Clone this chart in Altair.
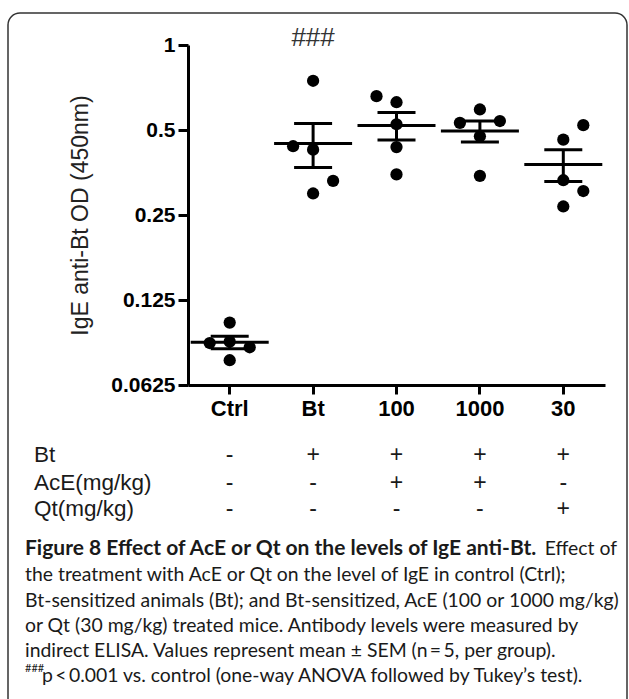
import altair as alt
import pandas as pd
import numpy as np

# ---------------- data ----------------
groups = ["Ctrl", "Bt", "100", "1000", "30"]
ctrl_vals = [0.104, 0.088, 0.089, 0.085, 0.0765]
bt_vals = [0.747, 0.438, 0.426, 0.330, 0.298]
ace100_vals = [0.659, 0.627, 0.524, 0.435, 0.348]
ace1000_vals = [0.591, 0.530, 0.538, 0.475, 0.344]
qt30_vals = [0.520, 0.462, 0.332, 0.304, 0.268]
# side-by-side slot of each dot inside its column (-1 left, 0 centre, 1 right)
ctrl_slots = [0, -1, 0, 1, 0]
bt_slots = [0, -1, 0, 1, 0]
ace100_slots = [-1, 0, 0, 0, 0]
ace1000_slots = [0, -1, 1, 0, 0]
qt30_slots = [1, 0, 0, 1, 0]

y_ticks = [0.0625, 0.125, 0.25, 0.5, 1]
y_title = "IgE anti-Bt OD (450nm)"
sig_label = "###"

row_labels = ["Bt", "AcE(mg/kg)", "Qt(mg/kg)"]
bt_signs = ["-", "+", "+", "+", "+"]
ace_signs = ["-", "-", "+", "+", "-"]
qt_signs = ["-", "-", "-", "-", "+"]

caption_bold = "Figure 8 Effect of AcE or Qt on the levels of IgE anti-Bt."
caption_first_rest = "Effect of"
caption_lines = [
    "the treatment with AcE or Qt on the level of IgE in control (Ctrl);",
    "Bt-sensitized animals (Bt); and Bt-sensitized, AcE (100 or 1000 mg/kg)",
    "or Qt (30 mg/kg) treated mice. Antibody levels were measured by",
    "indirect ELISA. Values represent mean \u00b1 SEM (n\u2009=\u20095, per group).",
]
caption_sup = "###"
caption_last = "p\u2009<\u20090.001 vs. control (one-way ANOVA followed by Tukey\u2019s test)."

# ---------------- tables ----------------
all_vals = [ctrl_vals, bt_vals, ace100_vals, ace1000_vals, qt30_vals]
all_slots = [ctrl_slots, bt_slots, ace100_slots, ace1000_slots, qt30_slots]

pts = []
for g, vals, slots in zip(groups, all_vals, all_slots):
    for v, s in zip(vals, slots):
        pts.append({"group": g, "od": v, "slot": s})
points_df = pd.DataFrame(pts)

stats = []
for g, vals in zip(groups, all_vals):
    a = np.array(vals)
    m = a.mean()
    sem = a.std(ddof=1) / np.sqrt(len(a))
    stats.append({"group": g, "mean": m, "lo": m - sem, "hi": m + sem})
stats_df = pd.DataFrame(stats)

W, H = 417, 340
LEFT, TOP = 188, 45
BW = W / len(groups)
AXFONT = "Liberation Sans"
CAPFONT = "Lato"
INK = "#1a1a1a"

x_axis = alt.Axis(
    title=None, labelAngle=0, labelFont=AXFONT, labelFontSize=22, labelFontWeight="bold",
    labelColor="black", labelPadding=4, tickSize=9, tickWidth=3, tickColor="black",
    domainWidth=3, domainColor="black", grid=False,
)
y_axis = alt.Axis(
    values=y_ticks, format="~g", title=y_title, grid=False,
    labelFont=AXFONT, labelFontSize=21, labelFontWeight="bold", labelColor="black",
    labelPadding=3, tickSize=10, tickWidth=3, tickColor="black",
    domainWidth=3, domainColor="black",
    titleFont=AXFONT, titleFontSize=23, titleFontWeight="normal", titleColor="#222",
    titleX=-108, titleY=170, titleAngle=-90, titleAlign="center", titleBaseline="middle",
)
x_enc = alt.X("group:N", sort=groups,
              scale=alt.Scale(domain=groups, paddingInner=0, paddingOuter=0),
              axis=x_axis)
y_scale = alt.Scale(type="log", base=2, domain=[0.0625, 1], nice=False, zero=False)

points = alt.Chart(points_df).mark_circle(size=150, color="black", opacity=1).encode(
    x=x_enc,
    xOffset=alt.XOffset("slot:Q", scale=alt.Scale(domain=[-1, 1], range=[BW / 2 - 20, BW / 2 + 20])),
    y=alt.Y("od:Q", scale=y_scale, axis=y_axis),
)
base_stats = alt.Chart(stats_df)
mean_tick = base_stats.mark_tick(size=78, thickness=3, color="black", opacity=1).encode(
    x=x_enc, y=alt.Y("mean:Q", scale=y_scale, axis=y_axis))
lo_tick = base_stats.mark_tick(size=38, thickness=3, color="black", opacity=1).encode(
    x=x_enc, y=alt.Y("lo:Q", scale=y_scale, axis=y_axis))
hi_tick = base_stats.mark_tick(size=38, thickness=3, color="black", opacity=1).encode(
    x=x_enc, y=alt.Y("hi:Q", scale=y_scale, axis=y_axis))
whisk = base_stats.mark_rule(strokeWidth=3, color="black").encode(
    x=x_enc, y=alt.Y("lo:Q", scale=y_scale, axis=y_axis), y2="hi:Q")

hash_mark = alt.Chart(pd.DataFrame({"group": ["Bt"], "t": [sig_label]})).mark_text(
    font=AXFONT, fontSize=26, color="#333", baseline="middle", align="center"
).encode(x=x_enc, y=alt.value(38 - TOP), text="t:N")

layers = [points, whisk, mean_tick, lo_tick, hi_tick, hash_mark]

row_y = [455, 483, 509]
for lab, signs, ry in zip(row_labels, [bt_signs, ace_signs, qt_signs], row_y):
    sdf = pd.DataFrame({"group": groups, "s": signs})
    layers.append(alt.Chart(sdf).mark_text(
        font=AXFONT, fontSize=23, color=INK, baseline="middle", align="center"
    ).encode(x=x_enc, y=alt.value(ry - TOP), text="s:N"))
    layers.append(alt.Chart(pd.DataFrame({"t": [lab]})).mark_text(
        font=AXFONT, fontSize=22.5, color=INK, baseline="middle", align="left"
    ).encode(x=alt.value(34 - LEFT), y=alt.value(ry - TOP), text="t:N"))

cap_y = [549, 575, 601, 626, 651, 676]
cx = 25 - LEFT
CAP_SIZE = 19.4
layers.append(alt.Chart(pd.DataFrame({"t": [caption_bold]})).mark_text(
    font=CAPFONT, fontSize=21, fontWeight="bold", color=INK, baseline="middle", align="left"
).encode(x=alt.value(cx), y=alt.value(cap_y[0] - TOP), text="t:N"))
layers.append(alt.Chart(pd.DataFrame({"t": [caption_first_rest]})).mark_text(
    font=CAPFONT, fontSize=CAP_SIZE, color=INK, baseline="middle", align="right"
).encode(x=alt.value(617 - LEFT), y=alt.value(cap_y[0] - TOP), text="t:N"))
for line, cy in zip(caption_lines, cap_y[1:5]):
    layers.append(alt.Chart(pd.DataFrame({"t": [line]})).mark_text(
        font=CAPFONT, fontSize=CAP_SIZE, color=INK, baseline="middle", align="left"
    ).encode(x=alt.value(cx), y=alt.value(cy - TOP), text="t:N"))
layers.append(alt.Chart(pd.DataFrame({"t": [caption_sup]})).mark_text(
    font=CAPFONT, fontSize=11, color=INK, baseline="middle", align="left"
).encode(x=alt.value(cx), y=alt.value(cap_y[5] - 7 - TOP), text="t:N"))
layers.append(alt.Chart(pd.DataFrame({"t": [caption_last]})).mark_text(
    font=CAPFONT, fontSize=CAP_SIZE, color=INK, baseline="middle", align="left"
).encode(x=alt.value(cx + 17), y=alt.value(cap_y[5] - TOP), text="t:N"))

frame = alt.Chart(pd.DataFrame({"k": [0]})).mark_rect(
    fill="white", fillOpacity=0, stroke="#333", strokeWidth=1.5, cornerRadius=12
).encode(x=alt.value(8 - LEFT), x2=alt.value(627 - LEFT),
         y=alt.value(13 - TOP), y2=alt.value(720 - TOP))
layers.insert(0, frame)

chart = alt.layer(*layers).properties(
    width=W, height=H,
    padding={"left": LEFT, "top": TOP, "right": 629 - LEFT - W, "bottom": 699 - TOP - H},
    autosize=alt.AutoSizeParams(type="none"),
    background="white",
).configure_view(stroke=None)

chart.save("out.html", embed_options={"renderer": "svg", "actions": False})
